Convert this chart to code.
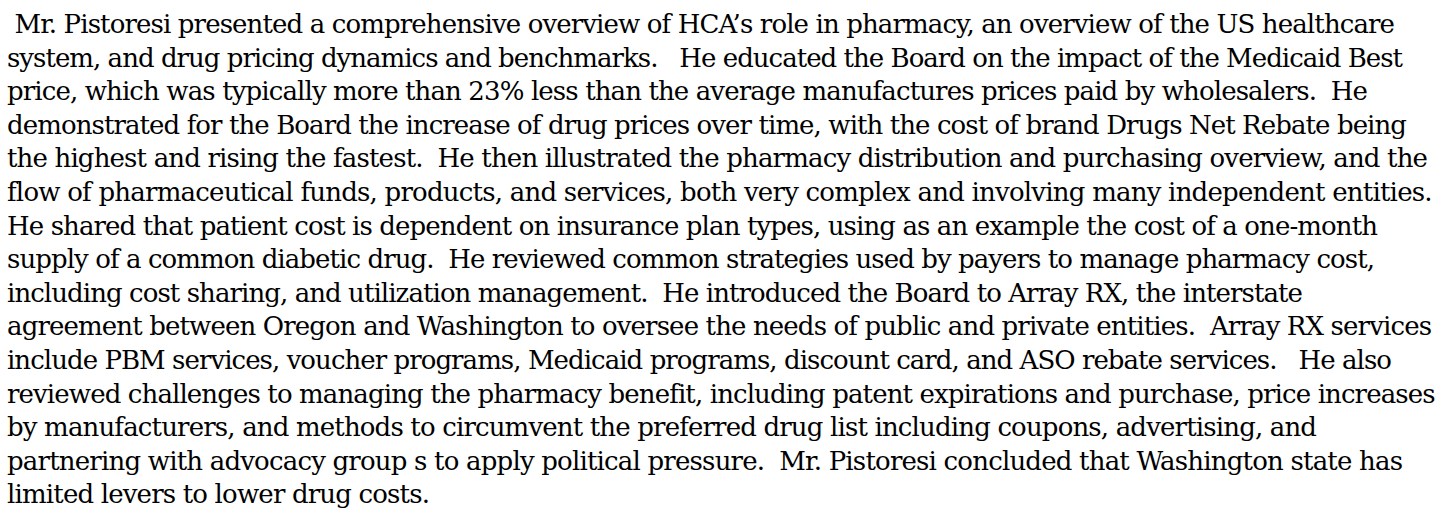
<!DOCTYPE html>
<html>
<head>
<meta charset="utf-8">
<script src="https://cdn.jsdelivr.net/npm/chart.js@4"></script>
<style>
  html, body { margin:0; padding:0; background:#fff; }
  body { width:1455px; height:519px; overflow:hidden; }
  #text { position:absolute; left:7px; top:8px; font-family:"DejaVu Serif", serif; font-size:26px; line-height:33.6px; color:#000; }
  #text div { white-space:pre; }
</style>
</head>
<body>
<div id="text"></div>
<script>
/* ===== TEXT LINES ===== */
const lines = [
  " Mr. Pistoresi presented a comprehensive overview of HCA’s role in pharmacy, an overview of the US healthcare",
  "system, and drug pricing dynamics and benchmarks.   He educated the Board on the impact of the Medicaid Best",
  "price, which was typically more than 23% less than the average manufactures prices paid by wholesalers.  He",
  "demonstrated for the Board the increase of drug prices over time, with the cost of brand Drugs Net Rebate being",
  "the highest and rising the fastest.  He then illustrated the pharmacy distribution and purchasing overview, and the",
  "flow of pharmaceutical funds, products, and services, both very complex and involving many independent entities.",
  "He shared that patient cost is dependent on insurance plan types, using as an example the cost of a one-month",
  "supply of a common diabetic drug.  He reviewed common strategies used by payers to manage pharmacy cost,",
  "including cost sharing, and utilization management.  He introduced the Board to Array RX, the interstate",
  "agreement between Oregon and Washington to oversee the needs of public and private entities.  Array RX services",
  "include PBM services, voucher programs, Medicaid programs, discount card, and ASO rebate services.   He also",
  "reviewed challenges to managing the pharmacy benefit, including patent expirations and purchase, price increases",
  "by manufacturers, and methods to circumvent the preferred drug list including coupons, advertising, and",
  "partnering with advocacy group s to apply political pressure.  Mr. Pistoresi concluded that Washington state has",
  "limited levers to lower drug costs."
];

// right edge of each line in the page (layout only)
const lineEnds = [1395, 1403, 1368, 1407, 1428, 1432, 1378, 1375, 1303, 1432, 1392, 1435, 1317, 1403, 430];

const box = document.getElementById("text");
lines.forEach((t, i) => {
  const d = document.createElement("div");
  d.textContent = t;
  box.appendChild(d);
  const span = document.createElement("span");
  span.textContent = t;
  span.style.whiteSpace = "pre";
  d.textContent = "";
  d.appendChild(span);
  const w = span.getBoundingClientRect().width;
  const target = lineEnds[i] - 7;
  span.style.letterSpacing = ((target - w) / (t.length - 1)) + "px";
});
</script>
</body>
</html>
